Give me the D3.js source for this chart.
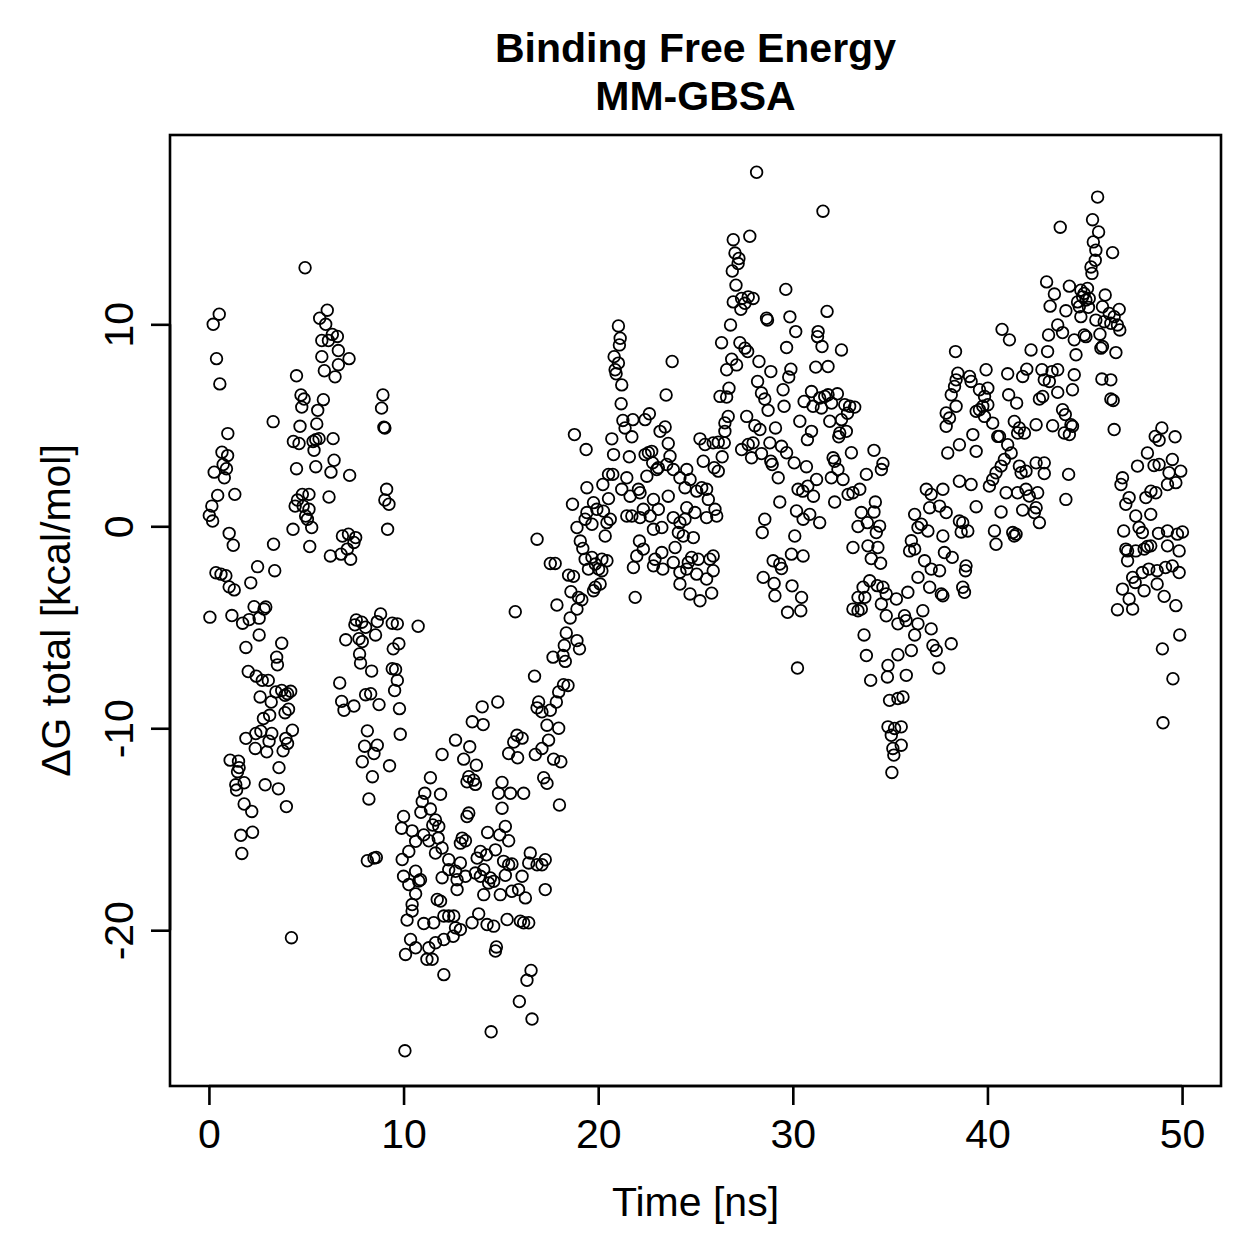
<!DOCTYPE html>
<html>
<head>
<meta charset="utf-8">
<script src="https://cdn.jsdelivr.net/npm/d3@7"></script>
<style>
  html, body { margin: 0; padding: 0; background: #ffffff; }
  svg { display: block; }
  text { font-family: "Liberation Sans", Arial, Helvetica, sans-serif; fill: #000; }
</style>
</head>
<body>
<svg id="chart" width="1259" height="1259"></svg>
<script>
// ---- chart text ----
const titleLines = ["Binding Free Energy", "MM-GBSA"];
const xLabel = "Time [ns]";
const yLabel = "\u0394G total [kcal/mol]";
const xTicks = [0, 10, 20, 30, 40, 50];
const yTicks = [-20, -10, 0, 10];

// ---- data: [time (ns), dG total (kcal/mol)] ----
const earlyCloud = [
[4.94,12.8],[0.53,10.5],[0.22,10.0],[6.08,10.7],[5.69,10.3],[6.0,10.0],[6.34,9.5],[6.6,9.4],[5.8,9.2],[6.14,9.2],[6.65,8.7],[7.2,8.3],[5.8,8.4],[6.65,8.0],[5.93,7.7],[6.48,7.4],[0.39,8.3],[0.56,7.05],[4.5,7.45],[8.94,6.5],[8.87,5.85],[8.99,4.9],[9.04,4.87],[4.73,6.5],[4.89,6.3],[5.88,6.27],[4.77,5.9],[5.59,5.74],[3.3,5.18],[4.68,4.95],[5.54,5.07],[0.97,4.59],[4.34,4.2],[4.63,4.1],[5.35,4.2],[5.66,4.34],[5.49,4.29],[5.4,3.76],[6.38,4.34],[0.67,3.67],[0.96,3.5],[0.73,3.06],[0.9,2.85],[0.27,2.68],[0.79,2.4],[4.5,2.85],[5.49,2.95],[6.43,3.27],[6.27,2.68],[7.23,2.52],[0.45,1.53],[1.33,1.58],[0.15,1.0],[0.02,0.54],[0.19,0.26],[1.04,-0.35],[1.25,-0.94],[3.32,-0.89],[4.8,1.58],[4.55,1.3],[5.14,1.58],[4.43,1.0],[4.84,1.0],[5.14,0.84],[4.97,0.51],[5.06,0.35],[5.28,-0.06],[4.32,-0.15],[5.18,-1.0],[6.17,1.45],[9.13,1.83],[9.04,1.3],[9.25,1.09],[9.18,-0.15],[6.86,-0.48],[7.17,-0.39],[7.54,-0.56],[7.45,-0.8],[7.11,-1.13],[6.79,-1.38],[6.24,-1.47],[7.28,-1.63],
[0.36,-2.3],[0.62,-2.37],[0.87,-2.45],[1.04,-3.0],[1.3,-3.15],[2.15,-2.8],[2.5,-2.0],[3.38,-2.2],[0.05,-4.5],[1.18,-4.42],[1.73,-4.8],[2.07,-4.62],[2.32,-3.98],[2.58,-4.55],[2.92,-4.0],[2.83,-4.1],[2.58,-5.38],[3.74,-5.79],[1.9,-6.0],[3.48,-6.48],[3.52,-6.86],[2.02,-7.19],[2.43,-7.42],[2.74,-7.63],[3.05,-7.63],[3.44,-8.2],[3.74,-8.13],[4.04,-8.29],[4.2,-8.17],[3.91,-8.37],[2.63,-8.45],[3.2,-8.7],[2.8,-9.52],[3.12,-9.36],[3.91,-9.23],[4.09,-9.06],[1.9,-10.5],[2.41,-10.26],[2.67,-10.15],[3.09,-10.64],[3.23,-10.26],[3.95,-10.5],[4.29,-10.1],[4.04,-10.75],[2.38,-11.0],[2.97,-11.17],[3.81,-11.12],[1.09,-11.58],[1.52,-11.63],[1.55,-11.95],[1.47,-12.15],[3.6,-11.95],[1.81,-12.7],[1.38,-12.8],[1.42,-13.06],[2.89,-12.8],[3.57,-13.0],[1.81,-13.75],[2.2,-14.12],[3.98,-13.88],[1.64,-15.3],[2.24,-15.15],[1.69,-16.2],
[6.72,-7.76],[7.57,-4.64],[7.5,-4.88],[8.05,-5.0],[7.85,-4.75],[8.82,-4.34],[8.65,-4.72],[8.56,-5.38],[9.42,-4.8],[9.68,-4.83],[10.75,-4.95],[7.03,-5.62],[7.71,-5.57],[7.88,-5.71],[7.74,-6.32],[7.79,-6.77],[8.36,-7.17],[9.47,-6.07],[9.76,-5.82],[9.42,-7.05],[9.59,-7.09],[9.68,-7.63],[9.54,-8.13],[6.82,-8.67],[6.94,-9.11],[7.45,-8.9],[8.05,-8.34],[8.31,-8.29],[8.74,-8.83],[9.79,-9.03],[8.14,-10.13],[8.0,-10.89],[8.65,-10.84],[8.48,-11.25],[7.88,-11.66],[8.4,-12.4],[9.28,-11.86],[9.83,-10.3],[8.22,-13.5],[8.14,-16.56],[8.48,-16.43],[8.6,-16.4],
[11.98,-11.3],[11.38,-12.45],[11.9,-13.27],[11.09,-13.22],[10.96,-13.63],[11.38,-14.0],[10.89,-14.16],[10.0,-14.37],[11.64,-14.54],[11.81,-14.86],[11.5,-14.79],[9.9,-14.95],[10.44,-15.08],[11.04,-15.28],[10.62,-15.6],[11.3,-15.57],[11.78,-15.44],[9.93,-16.5],[10.27,-16.1],[11.64,-16.18],[10.0,-17.33],[10.62,-17.08],[10.87,-17.5],[11.98,-17.4],
[4.24,-20.37],[10.07,-25.97],[10.27,-17.74],[10.78,-17.56],[10.62,-18.2],[10.44,-18.73],[11.73,-18.48],[11.9,-18.56],[10.44,-19.05],[10.18,-19.5],[11.04,-19.67],[11.55,-19.63],[12.07,-19.3],[10.36,-20.46],[10.62,-20.87],[10.1,-21.2],[11.3,-20.87],[11.64,-20.62],[11.2,-21.44],[11.47,-21.44],[12.07,-20.46],[12.07,-22.2]
];

const riseCloud = [
[21.04,9.92],[21.13,9.31],[21.09,8.98],[20.82,8.4],[21.04,8.08],[20.87,7.75],[20.92,7.55],[21.21,7.0],[21.18,6.07],[23.8,8.16],[23.49,6.5],[21.27,5.24],[21.78,5.28],[22.63,5.57],[22.41,5.28],[21.38,4.87],[21.73,4.43],[18.78,4.54],[19.38,3.8],[23.18,4.7],[23.44,4.92],[23.6,4.1],[23.69,3.47],[23.52,3.06],[23.86,2.81],[20.7,4.33],[20.79,3.55],[21.6,3.44],[22.41,3.55],[22.58,3.64],[22.75,3.71],[22.8,3.14],[23.09,2.9],[20.53,2.57],[20.75,2.57],[21.47,2.4],[22.5,2.48],[24.55,2.81],[24.2,2.4],
[22.07,1.83],[23.01,2.81],[19.42,1.91],[20.24,2.07],[20.53,1.37],[19.76,1.17],[18.68,1.09],[21.21,1.83],[21.64,1.49],[22.15,1.66],[22.84,1.33],[23.6,1.49],[24.46,1.91],
[19.42,0.68],[19.93,0.84],[20.27,0.75],[20.62,0.35],[20.45,0.18],[19.33,0.35],[18.91,-0.06],[19.68,0.1],[21.47,0.51],[21.73,0.51],[22.15,0.43],[22.32,0.84],[22.67,0.51],[23.09,0.84],[23.27,-0.06],[22.84,-0.15],
[23.86,0.43],[24.2,0.18],[24.46,0.35],[24.12,-0.31],[24.37,-0.48],[23.95,-1.05],[23.86,-1.79],[24.2,-2.28],[24.55,-2.12],
[20.36,-0.48],[19.08,-0.73],[19.21,-1.1],[22.12,-0.73],[22.32,-1.13],[21.98,-1.47],[21.81,-2.04],[22.92,-1.63],[23.27,-1.3],[22.84,-1.96],[23.32,-2.12],[24.2,-2.86],[21.9,-3.52],
[19.33,-1.63],[19.68,-1.54],[19.85,-1.87],[20.19,-1.63],[20.45,-1.71],[19.5,-2.12],[20.02,-2.12],[20.19,-2.2],[20.1,-2.86],[19.85,-3.02],[19.76,-3.19],
[16.86,-0.64],[17.54,-1.84],[17.79,-1.84],[18.48,-2.42],[18.73,-2.48],[18.6,-3.24],[18.99,-3.52],[19.16,-3.64],[18.91,-4.1],[18.56,-4.54],[17.88,-3.9],[15.74,-4.23],
[18.36,-5.28],[18.91,-5.66],[19.04,-6.07],[18.26,-5.9],[17.68,-6.48],[18.19,-6.4],[18.31,-6.69],[16.73,-7.42],
[18.22,-7.84],[18.45,-7.88],[17.97,-8.2],[17.85,-8.7],[16.94,-8.7],[16.86,-8.99],[17.11,-9.19],[17.54,-9.11],[17.37,-9.85],[17.97,-10.0],[17.45,-10.59],[17.11,-11.0],[16.77,-11.3],[17.71,-11.53],[18.08,-11.66],[15.83,-10.35],[16.09,-10.49],[15.66,-10.68],[15.4,-11.25],[15.86,-11.46],
[14.04,-8.94],[14.84,-8.7],[13.53,-9.68],[14.09,-9.82],[12.67,-10.59],[13.4,-10.92],[13.09,-11.53],[13.74,-11.83],[13.35,-12.4],[13.6,-12.57],[13.26,-12.65],[13.69,-12.78],[15.06,-12.68],[14.88,-13.22],[15.49,-13.22],[16.17,-13.22],[17.2,-12.45],[17.37,-12.73],
[15.06,-13.96],[18.01,-13.8],[13.35,-14.2],[13.26,-14.37],[14.32,-15.16],[15.23,-14.86],[15.4,-15.57],[14.94,-15.28],[13.01,-15.44],[13.18,-15.57],[12.92,-15.69],
[11.98,-15.93],[12.32,-16.51],[12.92,-16.67],[12.67,-17.08],[12.75,-17.5],[12.75,-17.99],[13.18,-17.33],[12.32,-17.0],
[13.95,-16.1],[14.26,-16.27],[14.72,-16.02],[13.78,-16.43],[14.12,-17.0],[13.69,-17.17],[13.95,-17.33],[14.46,-17.41],[14.37,-17.66],[14.63,-17.58],[14.12,-18.24],[14.97,-18.24],
[15.14,-16.59],[15.4,-16.76],[15.57,-16.72],[16.51,-16.18],[16.43,-16.67],[16.86,-16.76],[17.28,-16.51],[17.11,-16.76],[16.09,-17.33],[15.23,-17.28],[15.57,-18.07],[15.91,-17.99],[16.26,-18.4],[17.28,-17.99],
[12.32,-19.3],[12.58,-19.3],[12.67,-19.88],[12.92,-19.97],[12.55,-20.3],[13.52,-19.63],[13.86,-19.19],[14.29,-19.72],[14.63,-19.8],[15.32,-19.47],[16.0,-19.55],[16.17,-19.63],[16.43,-19.63],
[14.77,-20.83],[14.72,-21.03],[16.55,-21.99],[16.34,-22.48],[15.95,-23.53],[16.6,-24.4],[14.5,-25.03]
];

const midCloud = [
[28.14,17.53],[31.55,15.6],[26.94,14.19],[27.79,14.36],[27.03,13.53],[27.23,13.26],[27.19,13.01],[26.89,12.64],[27.08,11.94],
[26.94,11.11],[27.37,11.28],[27.71,11.36],[27.96,11.28],[27.33,10.74],[27.54,11.04],[28.65,10.3],[28.7,10.21],[29.64,11.73],[29.85,10.37],[31.76,10.64],[26.8,9.97],[30.15,9.64],
[31.3,9.64],[31.27,9.39],[31.5,8.9],[32.5,8.73],[26.34,9.09],[27.28,9.09],[27.54,8.82],[27.68,8.65],[29.68,8.85],
[26.86,8.27],[27.11,7.99],[26.6,7.75],[28.26,8.16],[28.87,7.66],[29.9,7.78],[29.79,7.39],[31.18,7.88],[31.81,7.91],
[26.72,6.84],[26.26,6.43],[26.6,6.4],[28.19,7.17],[28.39,6.6],[28.56,6.3],[29.5,6.76],[29.55,5.94],[28.73,5.74],
[30.96,6.67],[30.58,6.18],[31.04,5.94],[31.38,6.35],[31.64,6.43],[31.81,6.51],[32.29,6.56],[31.99,6.1],[31.47,5.86],[32.67,6.02],[32.92,5.94],[33.18,5.9],[32.81,5.6],[32.5,5.28],[31.9,5.2],[30.36,5.2],
[26.68,5.44],[26.51,5.12],[26.51,4.7],[27.63,5.44],[28.05,4.98],[28.31,4.79],[29.11,4.87],[30.96,4.7],[30.75,4.29],[32.41,4.62],[32.75,4.7],[32.36,4.43],
[25.23,4.33],[25.49,4.05],[25.91,4.13],[26.17,4.16],[26.48,4.13],[25.4,3.22],[26.37,3.44],[25.96,2.9],[26.17,2.73],
[27.37,3.8],[27.71,4.05],[27.96,4.13],[27.88,3.39],[28.39,3.6],[28.82,4.13],[28.87,3.22],[28.94,3.06],[29.42,3.96],[29.68,3.64],[30.07,3.14],[30.7,2.95],
[32.07,3.39],[32.15,3.22],[32.32,2.81],[33.01,3.64],[34.17,3.76],[34.63,3.11],[33.78,2.57],[31.98,2.4],[32.58,2.32],[31.22,2.32],[29.25,2.4],
[24.72,2.32],[25.06,1.74],[25.32,1.91],[25.57,1.83],[25.66,1.33],[24.55,0.92],[24.97,0.68],[26.0,0.84],[26.09,0.51],[25.57,0.43],[24.89,-0.56],[24.8,-1.54],[25.14,-1.63],[24.63,-1.79],[25.91,-1.47],[25.74,-1.63],[25.91,-2.2],[25.57,-2.61],[25.06,-2.37],[24.72,-3.35],[25.23,-3.69],[25.83,-3.31],
[29.33,1.2],[28.56,0.35],[28.43,-0.31],[30.1,-0.48],[30.27,1.83],[30.51,1.74],[30.77,1.99],[31.06,1.49],[30.19,0.76],[30.53,0.35],[30.87,0.59],[31.38,0.18],
[28.99,-1.71],[29.33,-1.87],[29.42,-2.09],[29.93,-1.38],[30.53,-1.47],[28.48,-2.53],[29.04,-2.83],[29.08,-3.44],[29.96,-2.95],[30.45,-3.52],[30.41,-4.18],[29.73,-4.26],[30.24,-7.02],
[32.84,1.58],[32.15,1.2],[33.09,1.66],[33.44,1.83],[34.55,2.81],
[34.24,1.2],[33.52,0.68],[34.17,0.71],[33.35,-0.01],[33.83,0.18],[34.46,0.01],[34.29,-0.31],[33.09,-1.05],[33.86,-0.97],[34.37,-1.05],[34.03,-1.6],[34.51,-1.83],
[33.95,-2.7],[33.61,-3.02],[33.35,-3.52],[33.7,-3.52],[33.09,-4.1],[33.35,-4.18],[33.52,-4.1],[34.34,-2.94],[34.63,-3.02],[34.8,-3.35],[34.55,-3.85],[34.8,-4.43],[35.32,-3.6],[35.91,-3.27],[35.74,-4.43],[35.82,-4.67],[35.4,-4.83],[36.43,-4.83],[36.26,-5.38],[36.68,-4.18],[37.11,-5.08],
[36.86,1.83],[37.11,1.58],[37.03,0.92],[36.26,0.59],[36.6,0.1],[36.43,-0.06],[36.94,-0.23],[36.09,-0.72],[36.26,-1.13],[36.0,-1.22],[36.77,-1.71],[37.11,-2.12],[36.43,-2.53],[37.03,-3.02],
[33.66,-5.38],[33.78,-6.4],[34.0,-7.63],[34.89,-6.89],[34.86,-7.46],[35.4,-6.36],[35.83,-7.38],[36.09,-6.15],
[34.97,-8.62],[35.4,-8.53],[35.66,-8.45],[34.89,-9.93],[35.23,-10.01],[35.57,-9.93],[35.06,-10.35],[35.57,-10.84],[35.14,-11.0],[35.19,-11.33],[35.09,-12.19]
];

const lateCloud = [
[45.66,16.3],[45.4,15.18],[45.71,14.57],[45.44,14.08],[45.57,13.67],[45.54,13.17],[45.32,12.84],[45.37,12.52],[43.74,14.81],[46.43,13.55],
[43.04,12.1],[43.44,11.5],[43.22,10.9],[44.21,11.89],[44.03,10.67],
[44.8,11.69],[44.97,11.53],[45.14,11.78],[44.89,11.36],[45.06,11.2],[44.63,11.11],[45.23,11.28],[44.72,10.87],[45.19,10.84],[44.8,10.38],
[46.05,11.45],[45.91,10.87],[46.26,10.54],[46.77,10.74],[46.51,10.38],[45.57,10.21],[46.0,10.13],[46.34,10.05],[46.68,9.97],[46.8,9.72],[45.78,9.51],[45.83,8.82],[45.91,8.9],[46.6,8.6],[44.55,8.49],
[43.61,9.97],[43.86,9.59],[43.14,9.47],[44.46,9.23],[44.97,9.47],[45.06,9.39],[42.24,8.73],[43.09,8.65],[40.75,9.75],[41.13,9.23],[38.36,8.65],
[45.88,7.29],[46.34,7.25],[46.34,6.3],[46.46,6.23],[46.51,4.79],
[39.93,7.75],[41.04,7.55],[41.81,7.42],[42.02,7.78],[42.8,7.75],[43.32,7.66],[43.61,7.75],[44.46,7.5],[42.92,7.25],[43.18,7.17],[44.37,6.76],[43.61,6.63],[42.84,6.43],[42.67,6.3],[41.09,6.51],[41.5,6.1],
[38.48,7.58],[38.39,7.25],[39.08,7.42],[39.16,7.17],[38.31,6.92],[38.14,6.51],[38.39,5.94],[39.59,6.76],[39.85,6.43],[40.02,6.84],[39.59,5.77],[39.76,5.94],[40.02,6.02],[39.42,5.69],[39.85,5.44],[37.88,5.61],[38.05,5.36],[37.88,4.95],[40.27,5.11],[39.25,4.54],[40.53,4.45],[39.42,3.71],[38.56,4.04],[37.96,3.63],
[41.38,5.19],[41.64,4.87],[41.55,4.62],[41.9,4.62],[40.62,4.45],[41.04,4.04],[41.22,3.63],[40.87,3.31],[40.7,2.98],[40.44,2.65],[40.27,2.32],[40.1,1.99],[41.64,2.98],[41.98,2.73],[41.73,2.65],[42.5,3.14],[42.92,3.14],[42.92,2.61],[44.17,2.57],[44.03,1.33],
[43.86,5.77],[44.0,5.53],[44.29,5.03],[44.37,4.95],[43.95,4.62],[44.21,4.54],[42.5,5.03],[43.35,4.98],
[48.96,4.87],[49.64,4.43],[48.62,4.45],[48.82,4.26],[48.22,3.63],[47.71,2.98],[48.82,3.06],[48.56,3.01],[49.5,3.31],[49.93,2.73],[49.33,2.65],[49.68,2.16],[49.25,2.07],[46.94,2.4],[46.86,2.07],[48.4,1.74],[48.65,1.66],[48.14,1.42],[47.28,1.42],
[37.71,1.83],[38.56,2.23],[39.16,2.07],[40.96,1.66],[41.55,1.66],[41.98,1.83],[42.15,1.5],[42.58,1.66],
[37.54,1.0],[37.88,0.68],[37.71,-0.48],[38.56,0.26],[38.73,0.18],[38.99,-0.23],[38.65,-0.28],[39.42,0.97],[40.7,0.71],[40.36,-0.23],[40.44,-0.89],[41.3,-0.31],[41.38,-0.48],[41.47,-0.39],[41.81,0.8],[42.5,0.92],[42.67,0.18],[42.41,0.68],
[37.54,-2.2],[37.79,-1.3],[38.19,-1.54],[38.9,-1.96],[38.87,-2.2],[37.63,-3.35],[37.71,-3.44],[38.73,-3.02],[38.82,-3.27],[37.2,-5.9],[37.37,-6.15],[38.14,-5.82],[37.5,-7.02],
[47.11,1.09],[47.62,0.51],[48.39,0.59],[47.0,-0.23],[47.79,-0.06],[47.96,-0.31],[48.79,-0.35],[49.25,-0.23],[49.76,-0.39],[50.02,-0.28],[49.25,-0.97],[49.85,-1.22],[47.11,-1.13],[47.2,-1.22],[47.2,-1.71],[47.62,-1.22],[48.05,-1.13],[48.22,-1.0],[48.39,-0.97],
[47.46,-2.53],[47.59,-2.78],[47.96,-2.29],[48.29,-2.12],[48.72,-2.2],[49.15,-2.04],[49.5,-1.96],[49.85,-2.29],[48.72,-2.86],[48.05,-3.19],[46.94,-3.11],[47.28,-3.6],[47.46,-4.1],[46.68,-4.13],[49.08,-3.47],[49.68,-3.93],[49.88,-5.38],[48.99,-6.07],[49.53,-7.55],[49.02,-9.73]
];

const points = [...earlyCloud, ...riseCloud, ...midCloud, ...lateCloud];

// ---- layout ----
const W = 1259, H = 1259;
const box = { left: 170, right: 1221, top: 135, bottom: 1086 };
const fontSize = 41;
const fontFam = "'Liberation Sans', Arial, Helvetica, sans-serif";

const svg = d3.select("#chart");
svg.append("rect").attr("width", W).attr("height", H).attr("fill", "#fff");

// R-style 4% axis extension
function rRange(ext) { const d = (ext[1] - ext[0]) * 0.04; return [ext[0] - d, ext[1] + d]; }
const x = d3.scaleLinear().domain(rRange([0, 50])).range([box.left, box.right]);
const yExt = d3.extent(points, d => d[1]);
const y = d3.scaleLinear().domain(rRange([yExt[0], yExt[1] + 0.1])).range([box.bottom, box.top]);

// points
svg.append("g")
  .selectAll("circle")
  .data(points)
  .join("circle")
  .attr("cx", d => x(d[0]))
  .attr("cy", d => y(d[1]))
  .attr("r", 5.8)
  .attr("fill", "none")
  .attr("stroke", "#000")
  .attr("stroke-width", 1.8);

// frame
svg.append("rect")
  .attr("x", box.left).attr("y", box.top)
  .attr("width", box.right - box.left).attr("height", box.bottom - box.top)
  .attr("fill", "none").attr("stroke", "#000").attr("stroke-width", 2.6);

const fmt = d => String(d);  // plain hyphen-minus, as in R

// x axis
const xAxis = d3.axisBottom(x).tickValues(xTicks).tickSize(19).tickPadding(14).tickFormat(fmt);
const gx = svg.append("g").attr("transform", `translate(0,${box.bottom})`).call(xAxis);
gx.select(".domain").attr("d", `M${x(xTicks[0])},0H${x(xTicks[xTicks.length - 1])}`).attr("stroke-width", 2.6);
gx.selectAll(".tick line").attr("stroke-width", 2.6);
gx.selectAll(".tick text").attr("font-size", fontSize).attr("font-family", fontFam).attr("fill", "#000");

// y axis (labels parallel to axis, as in R's default las=0)
const yAxis = d3.axisLeft(y).tickValues(yTicks).tickSize(19).tickFormat(fmt);
const gy = svg.append("g").attr("transform", `translate(${box.left},0)`).call(yAxis);
gy.select(".domain").attr("d", `M0,${y(yTicks[0])}V${y(yTicks[yTicks.length - 1])}`).attr("stroke-width", 2.6);
gy.selectAll(".tick line").attr("stroke-width", 2.6);
gy.selectAll(".tick text")
  .attr("font-size", fontSize).attr("font-family", fontFam).attr("fill", "#000")
  .attr("x", null).attr("dy", null)
  .attr("text-anchor", "middle")
  .attr("transform", `translate(${118 - box.left + 14.5},0) rotate(-90)`);

// titles
const cx = (box.left + box.right) / 2;
svg.append("text").attr("x", cx).attr("y", 62).attr("text-anchor", "middle")
  .attr("font-size", fontSize).attr("font-weight", "bold").text(titleLines[0]);
svg.append("text").attr("x", cx).attr("y", 110).attr("text-anchor", "middle")
  .attr("font-size", fontSize).attr("font-weight", "bold").text(titleLines[1]);

// axis labels
svg.append("text").attr("x", cx).attr("y", 1216).attr("text-anchor", "middle")
  .attr("font-size", fontSize).text(xLabel);
const cy = (box.top + box.bottom) / 2;
svg.append("text").attr("text-anchor", "middle").attr("font-size", fontSize)
  .attr("transform", `translate(70,${cy}) rotate(-90)`).text(yLabel);
</script>
</body>
</html>
